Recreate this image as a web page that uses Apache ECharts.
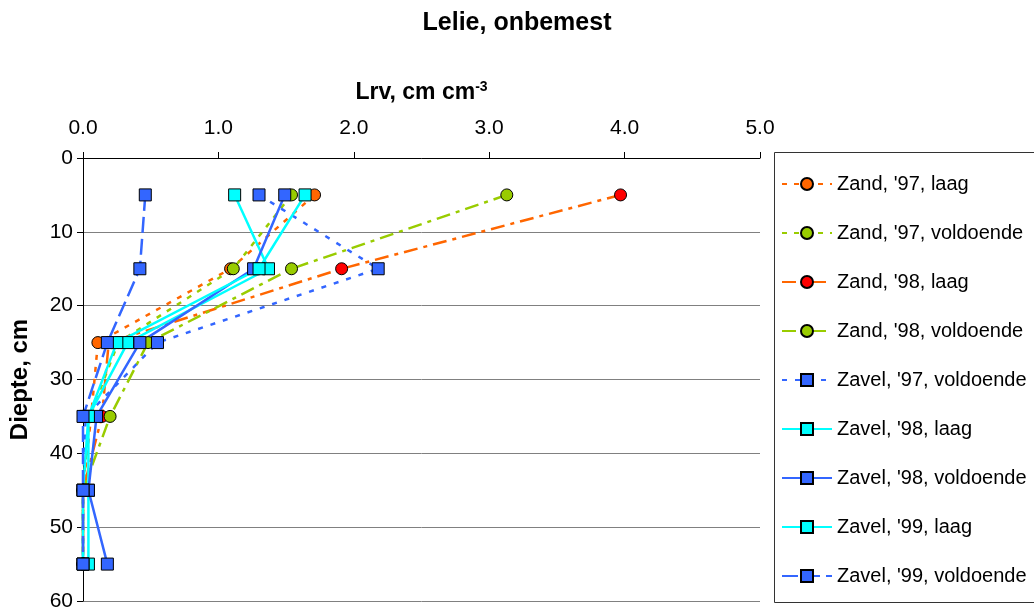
<!DOCTYPE html>
<html>
<head>
<meta charset="utf-8">
<script src="https://cdn.jsdelivr.net/npm/echarts@6/dist/echarts.min.js"></script>
<style>html,body{margin:0;padding:0;background:#fff}#c{width:1034px;height:612px}</style>
</head>
<body>
<div id="c"></div>
<script>
var depths = [5, 15, 25, 35, 45, 55];
var xTicks = [0, 1, 2, 3, 4, 5];
var seriesNames = ["Zand, '97, laag", "Zand, '97, voldoende", "Zand, '98, laag", "Zand, '98, voldoende",
  "Zavel, '97, voldoende", "Zavel, '98, laag", "Zavel, '98, voldoende", "Zavel, '99, laag", "Zavel, '99, voldoende"];
var zand97laag = [1.71, 1.09, 0.11, 0.06, 0.0, 0.0];
var zand97vold = [1.54, 1.11, 0.26, 0.05, 0.0, 0.0];
var zand98laag = [3.97, 1.91, 0.19, 0.14, 0.0, 0.0];
var zand98vold = [3.13, 1.54, 0.48, 0.20, 0.0, 0.0];
var zavel97vold = [1.30, 2.18, 0.55, 0.02, 0.0, 0.0];
var zavel98laag = [1.12, 1.37, 0.33, 0.04, 0.04, 0.04];
var zavel98vold = [1.49, 1.26, 0.42, 0.10, 0.04, 0.18];
var zavel99laag = [1.64, 1.30, 0.25, 0.04, 0.0, 0.0];
var zavel99vold = [0.46, 0.42, 0.18, 0.0, 0.0, 0.0];

var values = [zand97laag, zand97vold, zand98laag, zand98vold, zavel97vold, zavel98laag, zavel98vold, zavel99laag, zavel99vold];
var styles = [
  {line: '#FF6600', fill: '#FF6600', sym: 'circle', type: [5, 7]},
  {line: '#99CC00', fill: '#99CC00', sym: 'circle', type: [5, 7]},
  {line: '#FF6600', fill: '#FF0000', sym: 'circle', type: [14, 6, 4, 6]},
  {line: '#99CC00', fill: '#99CC00', sym: 'circle', type: [14, 6, 4, 6]},
  {line: '#3366FF', fill: '#3366FF', sym: 'rect', type: [5, 8]},
  {line: '#00FFFF', fill: '#00FFFF', sym: 'rect', type: 'solid'},
  {line: '#3366FF', fill: '#3366FF', sym: 'rect', type: 'solid'},
  {line: '#00FFFF', fill: '#00FFFF', sym: 'rect', type: 'solid'},
  {line: '#3366FF', fill: '#3366FF', sym: 'rect', type: [16, 6]}
];

var series = seriesNames.map(function (n, i) {
  return {
    name: n,
    type: 'line',
    data: values[i].map(function (v, j) { return [v, depths[j]]; }),
    symbol: styles[i].sym,
    symbolSize: 12,
    lineStyle: {color: styles[i].line, width: 2.5, type: styles[i].type},
    itemStyle: {color: styles[i].fill, borderColor: '#000', borderWidth: 1},
    emphasis: {disabled: true},
    animation: false
  };
});

var chart = echarts.init(document.getElementById('c'));
chart.setOption({
  backgroundColor: '#fff',
  animation: false,
  title: {
    text: 'Lelie, onbemest', left: 'center', top: 6,
    textStyle: {fontFamily: 'Liberation Sans', fontSize: 25, fontWeight: 'bold', color: '#000'}
  },
  grid: {left: 81, right: 274, top: 158, bottom: 11},
  xAxis: {
    type: 'value', position: 'top', min: 0, max: 5, interval: 1,
    name: '{a|Lrv, cm cm}{s|-3}', nameLocation: 'middle', nameGap: 52,
    nameTextStyle: {rich: {
      a: {fontFamily: 'Liberation Sans', fontSize: 23, fontWeight: 'bold', color: '#000'},
      s: {fontFamily: 'Liberation Sans', fontSize: 14, fontWeight: 'bold', color: '#000', verticalAlign: 'top', padding: [0, 0, 12, 0]}
    }},
    axisLine: {lineStyle: {color: '#000', width: 1}},
    axisTick: {length: 6, lineStyle: {color: '#000'}},
    axisLabel: {formatter: function (v) { return v.toFixed(1); }, fontFamily: 'Liberation Sans', fontSize: 21, color: '#000', margin: 19},
    splitLine: {show: false}
  },
  yAxis: {
    type: 'value', inverse: true, min: 0, max: 60, interval: 10,
    name: 'Diepte, cm', nameLocation: 'middle', nameGap: 51, nameRotate: 90,
    nameTextStyle: {fontFamily: 'Liberation Sans', fontSize: 24, fontWeight: 'bold', color: '#000'},
    axisLine: {lineStyle: {color: '#000', width: 1}},
    axisTick: {length: 6, lineStyle: {color: '#000'}},
    axisLabel: {fontFamily: 'Liberation Sans', fontSize: 21, color: '#000', margin: 10},
    splitLine: {show: true, lineStyle: {color: '#808080', width: 1}}
  },
  legend: {
    orient: 'vertical', left: 781, top: 174, padding: 0,
    itemWidth: 50, itemHeight: 15, itemGap: 29,
    data: seriesNames,
    textStyle: {fontFamily: 'Liberation Sans', fontSize: 20, color: '#000', lineHeight: 20},
    selectedMode: false
  },
  graphic: [{
    type: 'rect', left: 772, top: 150, shape: {width: 270, height: 450},
    style: {fill: 'none', stroke: '#333', lineWidth: 1}, z: -1
  }],
  series: series
});
</script>
</body>
</html>
